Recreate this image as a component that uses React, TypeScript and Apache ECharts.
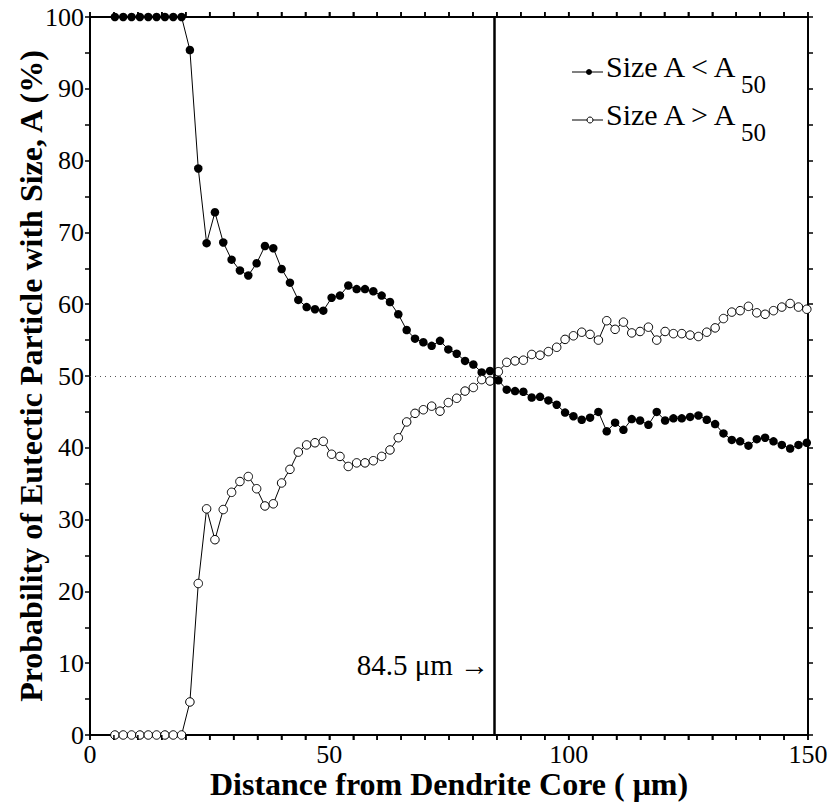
import React, { useEffect, useRef } from "react";
import * as echarts from "echarts";

// Distance from dendrite core (µm) of each sampled position
const distance = [
  5.2, 6.94, 8.68, 10.42, 12.17, 13.91, 15.65, 17.39, 19.13, 20.87,
  22.62, 24.36, 26.1, 27.84, 29.58, 31.32, 33.07, 34.81, 36.55, 38.29,
  40.03, 41.77, 43.52, 45.26, 47.0, 48.74, 50.48, 52.22, 53.96, 55.71,
  57.45, 59.19, 60.93, 62.67, 64.41, 66.16, 67.9, 69.64, 71.38, 73.12,
  74.86, 76.61, 78.35, 80.09, 81.83, 83.57, 85.31, 87.06, 88.8, 90.54,
  92.28, 94.02, 95.76, 97.5, 99.25, 100.99, 102.73, 104.47, 106.21, 107.95,
  109.7, 111.44, 113.18, 114.92, 116.66, 118.4, 120.15, 121.89, 123.63, 125.37,
  127.11, 128.85, 130.6, 132.34, 134.08, 135.82, 137.56, 139.3, 141.04, 142.79,
  144.53, 146.27, 148.01, 149.75,
];

// Size A < A50 (filled markers), %
const probBelow = [
  100, 100, 100, 100, 100, 100, 100, 100, 100, 95.4,
  78.9, 68.5, 72.8, 68.6, 66.2, 64.7, 64.0, 65.7, 68.1, 67.8,
  64.9, 63.0, 60.6, 59.6, 59.3, 59.1, 60.9, 61.2, 62.6, 62.1,
  62.1, 61.8, 61.2, 60.3, 58.6, 56.4, 55.2, 54.7, 54.2, 54.9,
  53.7, 53.1, 52.1, 51.6, 50.5, 50.7, 49.4, 48.1, 47.9, 47.8,
  47.0, 47.1, 46.6, 46.0, 44.9, 44.4, 43.9, 44.2, 45.0, 42.3,
  43.5, 42.5, 44.0, 43.8, 43.2, 45.0, 43.8, 44.1, 44.1, 44.3,
  44.5, 43.9, 43.3, 42.0, 41.1, 40.9, 40.3, 41.2, 41.4, 40.9,
  40.4, 39.9, 40.4, 40.7,
];

// Size A > A50 (open markers), %
const probAbove = [
  0, 0, 0, 0, 0, 0, 0, 0, 0, 4.6,
  21.1, 31.5, 27.2, 31.4, 33.8, 35.3, 36.0, 34.3, 31.9, 32.2,
  35.1, 37.0, 39.4, 40.4, 40.7, 40.9, 39.1, 38.8, 37.4, 37.9,
  37.9, 38.2, 38.8, 39.7, 41.4, 43.6, 44.8, 45.3, 45.8, 45.1,
  46.3, 46.9, 47.9, 48.4, 49.5, 49.3, 50.6, 51.9, 52.1, 52.2,
  53.0, 52.9, 53.4, 54.0, 55.1, 55.6, 56.1, 55.8, 55.0, 57.7,
  56.5, 57.5, 56.0, 56.2, 56.8, 55.0, 56.2, 55.9, 55.9, 55.7,
  55.5, 56.1, 56.7, 58.0, 58.9, 59.1, 59.7, 58.8, 58.6, 59.1,
  59.6, 60.1, 59.6, 59.3,
];

// tick positions along the distance axis (µm); labels shown every 50
const xTickValues = [
  0, 5, 10, 15, 20, 25, 30, 35, 40, 45, 50, 55, 60, 65, 70, 75,
  80, 85, 90, 95, 100, 105, 110, 115, 120, 125, 130, 135, 140, 145, 150,
];
const yMin = 0;
const yMax = 100;

const criticalDistance = 84.5;
const halfLevel = 50;

const SERIF = "'Liberation Serif', 'Times New Roman', serif";

export default function App() {
  const ref = useRef<HTMLDivElement>(null);

  useEffect(() => {
    if (!ref.current) return;
    const chart = echarts.init(ref.current, null, { renderer: "svg" });

    const axisLine = () => ({ show: true, onZero: false, lineStyle: { color: "#000", width: 2 } });
    const tick = (len: number) => ({ show: true, inside: false, length: len, lineStyle: { color: "#000", width: 1.5 } });
    const minor = (n: number, len: number) => ({ show: true, splitNumber: n, length: len, lineStyle: { color: "#000", width: 1.5 } });
    const tickLabel = () => ({ fontFamily: SERIF, fontSize: 26, color: "#000" });

    const option: any = {
      animation: false,
      backgroundColor: "#fff",
      grid: { left: 90, right: 22, top: 17, bottom: 69, containLabel: false, outerBoundsMode: "none" },
      xAxis: [
        {
          type: "value", min: 0, max: 150, interval: 50, position: "bottom",
          axisLine: axisLine(), axisTick: tick(5), minorTick: minor(10, 5), splitLine: { show: false },
          axisLabel: { ...tickLabel(), margin: 6 },
          name: "Distance from Dendrite Core ( μm)", nameLocation: "middle", nameGap: 33, nameMoveOverlap: false,
          nameTextStyle: { fontFamily: SERIF, fontWeight: "bold", fontSize: 32, color: "#000", verticalAlign: "top" },
        },
        {
          type: "value", min: 0, max: 150, interval: 50, position: "top",
          axisLine: axisLine(), axisTick: tick(5), minorTick: minor(10, 5), splitLine: { show: false },
          axisLabel: { show: false },
        },
      ],
      yAxis: [
        {
          type: "value", min: yMin, max: yMax, interval: 10, position: "left",
          axisLine: axisLine(), axisTick: tick(5), minorTick: minor(2, 5), splitLine: { show: false },
          axisLabel: { ...tickLabel(), margin: 6 },
          name: "Probability of Eutectic Particle with Size, A (%)", nameLocation: "middle", nameGap: 43, nameRotate: 90,
          nameMoveOverlap: false,
          nameTextStyle: { fontFamily: SERIF, fontWeight: "bold", fontSize: 32, color: "#000" },
        },
        {
          type: "value", min: yMin, max: yMax, interval: 10, position: "right",
          axisLine: axisLine(), axisTick: tick(5), minorTick: minor(2, 5), splitLine: { show: false },
          axisLabel: { show: false },
        },
      ],
      series: [
        {
          name: "Size A < A50",
          type: "line",
          data: distance.map((d, i) => [d, probBelow[i]]),
          symbol: "circle", symbolSize: 8.5,
          itemStyle: { color: "#000", borderColor: "#000", borderWidth: 0 },
          lineStyle: { color: "#000", width: 1 },
          z: 3,
          markLine: {
            silent: true, symbol: ["none", "none"], label: { show: false }, animation: false,
            data: [
              { xAxis: criticalDistance, lineStyle: { type: "solid", width: 2.5, color: "#000" } },
              { yAxis: halfLevel, lineStyle: { type: [1, 4], width: 1, color: "#555" } },
            ],
          },
        },
        {
          name: "Size A > A50",
          type: "line",
          data: distance.map((d, i) => [d, probAbove[i]]),
          symbol: "circle", symbolSize: 8.5,
          itemStyle: { color: "#fff", borderColor: "#000", borderWidth: 1 },
          lineStyle: { color: "#000", width: 1 },
          z: 4,
        },
        {
          // outward tick marks on the bottom and top frame of the distance axis
          name: "xTicks",
          type: "custom",
          silent: true,
          clip: false,
          z: 10,
          data: xTickValues.map((v) => [v, yMin]),
          renderItem: (_params: any, api: any) => {
            const v = api.value(0);
            const b = api.coord([v, yMin]);
            const t = api.coord([v, yMax]);
            return {
              type: "group",
              children: [
                { type: "rect", shape: { x: b[0] - 0.75, y: b[1], width: 1.5, height: 5 }, style: { fill: "#000" } },
                { type: "rect", shape: { x: t[0] - 0.75, y: t[1] - 5, width: 1.5, height: 5 }, style: { fill: "#000" } },
              ],
            };
          },
        },
      ],
      graphic: [
        // legend
        { type: "line", shape: { x1: 572, y1: 72, x2: 603, y2: 72 }, style: { stroke: "#000", lineWidth: 1 } },
        { type: "circle", shape: { cx: 589, cy: 72, r: 3 }, style: { fill: "#000" } },
        { type: "text", x: 606, y: 66, style: { text: "Size A < A", font: `30px ${SERIF}`, fill: "#000", textAlign: "left", textVerticalAlign: "middle" } },
        { type: "text", x: 741, y: 84, style: { text: "50", font: `25px ${SERIF}`, fill: "#000", textAlign: "left", textVerticalAlign: "middle" } },
        { type: "line", shape: { x1: 572, y1: 120, x2: 603, y2: 120 }, style: { stroke: "#000", lineWidth: 1 } },
        { type: "circle", shape: { cx: 590, cy: 120, r: 3 }, style: { fill: "#fff", stroke: "#000", lineWidth: 1 } },
        { type: "text", x: 606, y: 114, style: { text: "Size A > A", font: `30px ${SERIF}`, fill: "#000", textAlign: "left", textVerticalAlign: "middle" } },
        { type: "text", x: 741, y: 132, style: { text: "50", font: `25px ${SERIF}`, fill: "#000", textAlign: "left", textVerticalAlign: "middle" } },
        // annotation
        { type: "text", x: 489, y: 665, style: { text: "84.5 μm →", font: `29px ${SERIF}`, fill: "#000", textAlign: "right", textVerticalAlign: "middle" } },
      ],
    };

    chart.setOption(option);
    return () => chart.dispose();
  }, []);

  return (
    <div
      ref={ref}
      style={{ position: "fixed", left: 0, top: 0, width: 830, height: 804, background: "#fff" }}
    />
  );
}
